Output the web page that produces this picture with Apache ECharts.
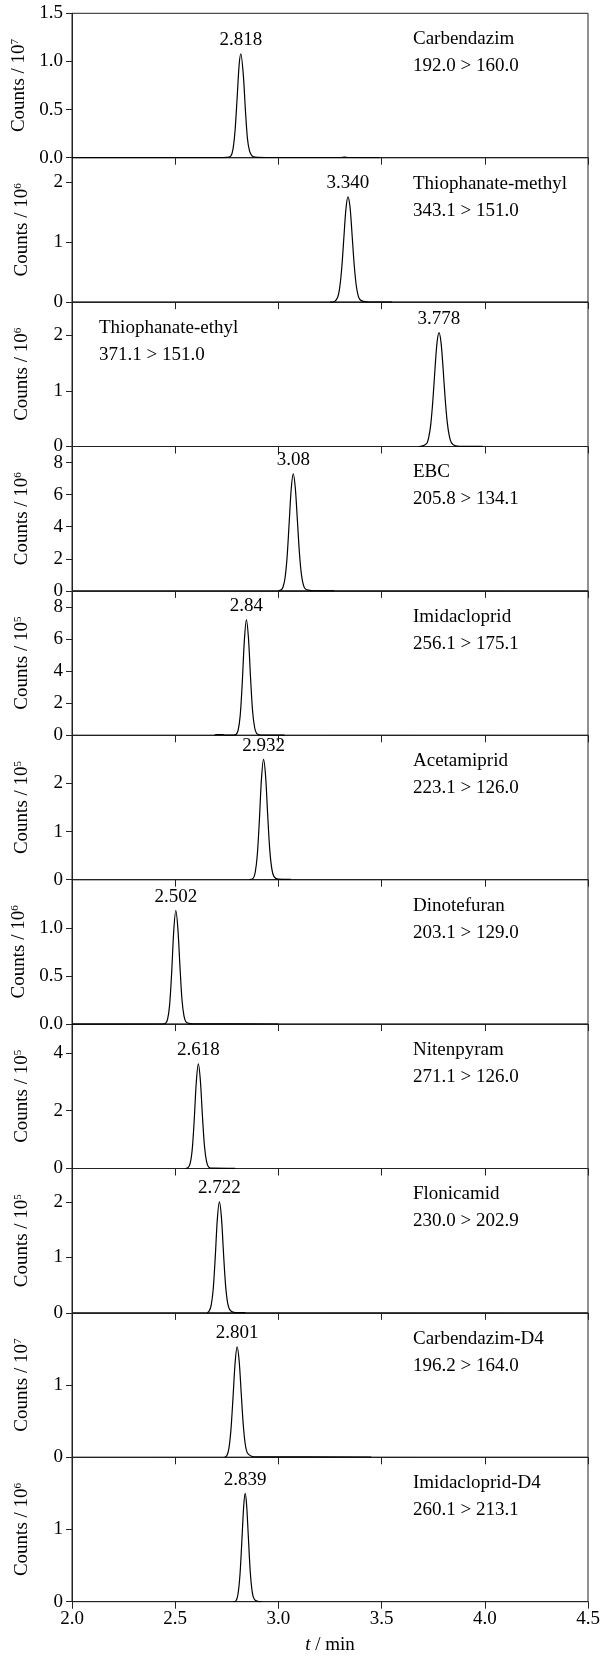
<!DOCTYPE html>
<html>
<head>
<meta charset="utf-8">
<title>MRM chromatograms</title>
<script src="https://cdn.jsdelivr.net/npm/echarts@6/dist/echarts.min.js"></script>
<style>
  html, body { margin: 0; padding: 0; background: #fff; }
  #chart { width: 609px; height: 1659px; }
</style>
</head>
<body>
<div id="chart"></div>
<script>
// compounds, transitions and retention times shown on each panel
var compounds = ['Carbendazim', 'Thiophanate-methyl', 'Thiophanate-ethyl', 'EBC', 'Imidacloprid',
  'Acetamiprid', 'Dinotefuran', 'Nitenpyram', 'Flonicamid', 'Carbendazim-D4', 'Imidacloprid-D4'];
var transitions = ['192.0 > 160.0', '343.1 > 151.0', '371.1 > 151.0', '205.8 > 134.1', '256.1 > 175.1',
  '223.1 > 126.0', '203.1 > 129.0', '271.1 > 126.0', '230.0 > 202.9', '196.2 > 164.0', '260.1 > 213.1'];
var peakLabels = ['2.818', '3.340', '3.778', '3.08', '2.84', '2.932', '2.502', '2.618', '2.722', '2.801', '2.839'];
var exponents = [7, 6, 6, 6, 5, 5, 6, 5, 5, 7, 6];
var yMax = [1.5, 2.4, 2.6, 9, 9, 3, 1.5, 5, 2.6, 2, 2];
var yInterval = [0.5, 1, 1, 2, 2, 1, 0.5, 2, 1, 1, 1];

// traces: [t / min, counts in units of 10^n]
var carbendazim = [[2.00,0],[2.70,0.001],[2.75,0.003],[2.77,0.02],[2.78,0.09],[2.79,0.28],[2.80,0.62],[2.81,0.97],[2.818,1.08],[2.83,0.86],[2.84,0.5],[2.85,0.2],[2.86,0.07],[2.87,0.025],[2.88,0.01],[2.90,0.004],[3.00,0.002],[3.30,0.002],[3.32,0.007],[3.34,0.002],[3.49,0.001]];
var thiophanateMethyl = [[3.25,0],[3.267,0.002],[3.287,0.08],[3.297,0.24],[3.307,0.57],[3.317,1.06],[3.327,1.54],[3.337,1.75],[3.347,1.58],[3.357,1.12],[3.367,0.63],[3.377,0.28],[3.387,0.1],[3.397,0.035],[3.417,0.008],[3.44,0.002],[3.55,0.001]];
var thiophanateEthyl = [[3.68,0],[3.69,0.002],[3.718,0.05],[3.728,0.16],[3.738,0.39],[3.748,0.81],[3.758,1.36],[3.768,1.85],[3.778,2.05],[3.788,1.87],[3.798,1.4],[3.808,0.86],[3.818,0.44],[3.828,0.19],[3.838,0.07],[3.858,0.01],[3.88,0.003],[3.99,0.002]];
var ebc = [[3.00,0.01],[3.012,0.05],[3.022,0.23],[3.032,0.79],[3.042,2.09],[3.052,4.2],[3.062,6.34],[3.072,7.3],[3.082,6.4],[3.092,4.4],[3.102,2.35],[3.112,0.98],[3.122,0.33],[3.132,0.11],[3.152,0.03],[3.172,0.01],[3.27,0.005]];
var imidacloprid = [[2.69,0],[2.70,0.04],[2.73,0.04],[2.74,0.01],[2.78,0.01],[2.795,0.05],[2.805,0.32],[2.815,1.24],[2.825,3.3],[2.835,5.9],[2.845,7.2],[2.855,6.05],[2.865,3.6],[2.875,1.5],[2.885,0.47],[2.895,0.11],[2.915,0.02],[2.94,0.01],[3.03,0.01]];
var acetamiprid = [[2.86,0],[2.878,0.03],[2.888,0.16],[2.898,0.53],[2.908,1.25],[2.918,2.1],[2.928,2.5],[2.938,2.15],[2.948,1.35],[2.958,0.63],[2.968,0.23],[2.978,0.07],[2.998,0.01],[3.06,0.005]];
var dinotefuran = [[2.00,0],[2.44,0.002],[2.453,0.008],[2.463,0.05],[2.473,0.2],[2.483,0.54],[2.493,0.97],[2.503,1.18],[2.513,0.99],[2.523,0.6],[2.533,0.25],[2.543,0.08],[2.553,0.02],[2.573,0.004],[2.60,0.002],[3.00,0.001]];
var nitenpyram = [[2.55,0],[2.562,0.03],[2.572,0.16],[2.582,0.62],[2.592,1.66],[2.602,2.97],[2.612,3.62],[2.622,3.04],[2.632,1.81],[2.642,0.76],[2.652,0.24],[2.662,0.05],[2.682,0.01],[2.79,0.005]];
var flonicamid = [[2.655,0],[2.664,0.03],[2.674,0.13],[2.684,0.42],[2.694,1.0],[2.704,1.68],[2.714,2.0],[2.724,1.72],[2.734,1.08],[2.744,0.5],[2.754,0.18],[2.764,0.06],[2.784,0.01],[2.84,0.004]];
var carbendazimD4 = [[2.74,0],[2.75,0.02],[2.76,0.12],[2.77,0.38],[2.78,0.82],[2.79,1.3],[2.80,1.53],[2.81,1.33],[2.82,0.88],[2.83,0.44],[2.84,0.17],[2.85,0.06],[2.87,0.015],[2.90,0.006],[3.45,0.004]];
var imidaclopridD4 = [[2.78,0],[2.794,0.01],[2.804,0.1],[2.814,0.38],[2.824,0.9],[2.832,1.33],[2.839,1.5],[2.846,1.34],[2.854,0.92],[2.864,0.4],[2.874,0.12],[2.884,0.03],[2.90,0.005],[2.92,0]];

var traces = [carbendazim, thiophanateMethyl, thiophanateEthyl, ebc, imidacloprid, acetamiprid,
  dinotefuran, nitenpyram, flonicamid, carbendazimD4, imidaclopridD4];

var font = 'Liberation Serif';
var ink = '#000';
var frame = '#222';

function peakOf(trace) {
  var best = trace[0];
  trace.forEach(function (p) { if (p[1] > best[1]) best = p; });
  return best;
}

function buildOption() {
  var grids = [], xAxes = [], yAxes = [], series = [], titles = [];
  var n = compounds.length;
  for (var i = 0; i < n; i++) {
    var top = 13.3 + i * 144.4;
    var last = (i === n - 1);
    var oneDecimal = (yInterval[i] === 0.5);

    grids.push({ left: 72, right: 21, top: top, height: 144.4, show: true, borderColor: frame, borderWidth: 1 });

    var xa = {
      gridIndex: i, type: 'value', min: 2, max: 4.5, interval: 0.5,
      axisLine: { lineStyle: { color: frame, width: 1 } },
      axisTick: { inside: false, length: 7, lineStyle: { color: frame } },
      splitLine: { show: false },
      axisLabel: { show: last, margin: 8, color: ink, fontFamily: font, fontSize: 19 }
    };
    xa.axisLabel.formatter = function (v) { return v.toFixed(1); };
    if (last) {
      xa.name = '{i|t} / min';
      xa.nameLocation = 'middle';
      xa.nameGap = 34;
      xa.nameTextStyle = { color: ink, fontFamily: font, fontSize: 19 };
      xa.nameTextStyle.rich = { i: { fontStyle: 'italic', fontFamily: font, fontSize: 19, color: ink } };
    }
    xAxes.push(xa);

    var ya = {
      gridIndex: i, type: 'value', min: 0, max: yMax[i], interval: yInterval[i],
      axisLine: { show: true, lineStyle: { color: frame, width: 1 } },
      axisTick: { show: true, inside: false, length: 6, lineStyle: { color: frame } },
      splitLine: { show: false },
      axisLabel: { margin: 9, color: ink, fontFamily: font, fontSize: 19 }
    };
    ya.axisLabel.showMaxLabel = (i === 0);
    ya.axisLabel.formatter = oneDecimal ? function (v) { return v.toFixed(1); } : function (v) { return String(v); };
    ya.name = 'Counts / 10{sup|' + exponents[i] + '}';
    ya.nameLocation = 'middle';
    ya.nameGap = 40;
    ya.nameTextStyle = { color: ink, fontFamily: font, fontSize: 19 };
    ya.nameTextStyle.rich = { sup: { fontFamily: font, fontSize: 11, color: ink, verticalAlign: 'top' } };
    yAxes.push(ya);

    // retention-time label sits on the apex of each trace
    var pk = peakOf(traces[i]);
    var data = traces[i].map(function (p) {
      if (p === pk) {
        return { value: p, label: { show: true, position: 'top', distance: 4, color: ink, fontFamily: font, fontSize: 19, formatter: peakLabels[i] } };
      }
      return p;
    });
    series.push({
      type: 'line', xAxisIndex: i, yAxisIndex: i, data: data,
      showSymbol: true, symbol: 'circle', symbolSize: 0,
      itemStyle: { color: ink }, lineStyle: { color: ink, width: 1.2 },
      smooth: 0.3
    });

    titles.push({
      text: compounds[i] + '\n' + transitions[i], left: i === 2 ? 99 : 413, top: top + 12.5, padding: 0,
      textStyle: { color: ink, fontFamily: font, fontSize: 19, fontWeight: 'normal', lineHeight: 27 }
    });
  }
  return { animation: false, backgroundColor: '#fff', grid: grids, xAxis: xAxes, yAxis: yAxes, series: series, title: titles };
}

var chart = echarts.init(document.getElementById('chart'));
chart.setOption(buildOption());
</script>
</body>
</html>
